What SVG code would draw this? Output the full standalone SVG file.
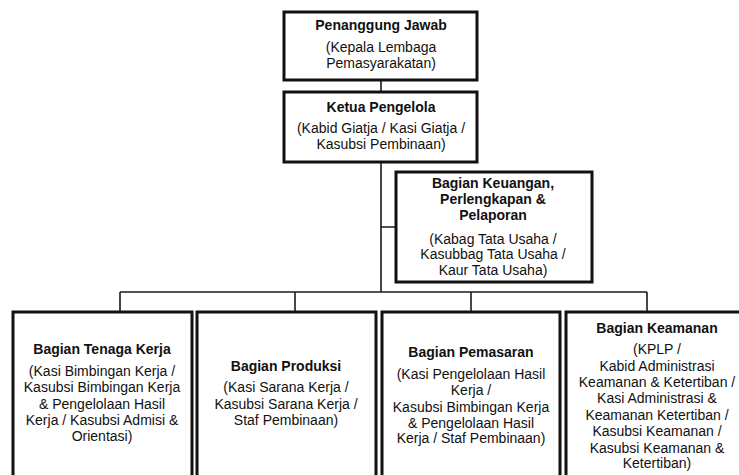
<svg xmlns="http://www.w3.org/2000/svg" width="739" height="475" viewBox="0 0 739 475">
<style>
.box{fill:#fff;stroke:#111;stroke-width:3}
.inner{fill:none;stroke:#bbb;stroke-width:1}
.ln{fill:none;stroke:#1a1a1a;stroke-width:1.6}
text{font-family:"Liberation Sans",Arial,sans-serif;font-size:14px;fill:#111;text-anchor:middle}
.t{font-weight:bold}
</style>
<rect width="739" height="475" fill="#fff"/>
<g id="connectors">
<path class="ln" d="M381 80V92M381 162V292M381 227H396M120 292H647M120 292V312M295 292V312M471 292V312M647 292V312"/>
</g>
<g id="penanggung-jawab">
<rect class="box" x="284" y="12" width="193" height="68"/>
<text class="t" x="381" y="30">Penanggung Jawab</text>
<text x="381" y="52">(Kepala Lembaga</text>
<text x="381" y="68">Pemasyarakatan)</text>
</g>
<g id="ketua-pengelola">
<rect class="box" x="284" y="92" width="193" height="70"/>
<text class="t" x="381" y="112">Ketua Pengelola</text>
<text x="381" y="133">(Kabid Giatja / Kasi Giatja /</text>
<text x="381" y="149">Kasubsi Pembinaan)</text>
</g>
<g id="bagian-keuangan">
<rect class="box" x="396" y="172" width="196" height="110"/>
<text class="t" x="493" y="188">Bagian Keuangan,</text>
<text class="t" x="493" y="204">Perlengkapan &amp;</text>
<text class="t" x="493" y="220">Pelaporan</text>
<text x="493" y="244">(Kabag Tata Usaha /</text>
<text x="493" y="259">Kasubbag Tata Usaha /</text>
<text x="493" y="275">Kaur Tata Usaha)</text>
</g>
<g id="bagian-tenaga-kerja">
<rect class="box" x="13" y="312" width="179" height="170"/>
<text class="t" x="102" y="354">Bagian Tenaga Kerja</text>
<text x="102" y="376">(Kasi Bimbingan Kerja /</text>
<text x="102" y="392">Kasubsi Bimbingan Kerja</text>
<text x="102" y="409">&amp; Pengelolaan Hasil</text>
<text x="102" y="425">Kerja / Kasubsi Admisi &amp;</text>
<text x="102" y="441">Orientasi)</text>
</g>
<g id="bagian-produksi">
<rect class="box" x="197" y="312" width="179" height="170"/>
<text class="t" x="286" y="371">Bagian Produksi</text>
<text x="286" y="392">(Kasi Sarana Kerja /</text>
<text x="286" y="409">Kasubsi Sarana Kerja /</text>
<text x="286" y="425">Staf Pembinaan)</text>
</g>
<g id="bagian-pemasaran">
<rect class="box" x="382" y="312" width="178" height="170"/>
<text class="t" x="471" y="357">Bagian Pemasaran</text>
<text x="471" y="379">(Kasi Pengelolaan Hasil</text>
<text x="471" y="395">Kerja /</text>
<text x="471" y="412">Kasubsi Bimbingan Kerja</text>
<text x="471" y="428">&amp; Pengelolaan Hasil</text>
<text x="471" y="443">Kerja / Staf Pembinaan)</text>
</g>
<g id="bagian-keamanan">
<rect class="box" x="566" y="312" width="185" height="170"/>
<text class="t" x="657" y="333">Bagian Keamanan</text>
<text x="657" y="354">(KPLP /</text>
<text x="657" y="371">Kabid Administrasi</text>
<text x="657" y="387">Keamanan &amp; Ketertiban /</text>
<text x="657" y="403">Kasi Administrasi &amp;</text>
<text x="657" y="420">Keamanan Ketertiban /</text>
<text x="657" y="436">Kasubsi Keamanan /</text>
<text x="657" y="453">Kasubsi Keamanan &amp;</text>
<text x="657" y="468">Ketertiban)</text>
</g>
</svg>
